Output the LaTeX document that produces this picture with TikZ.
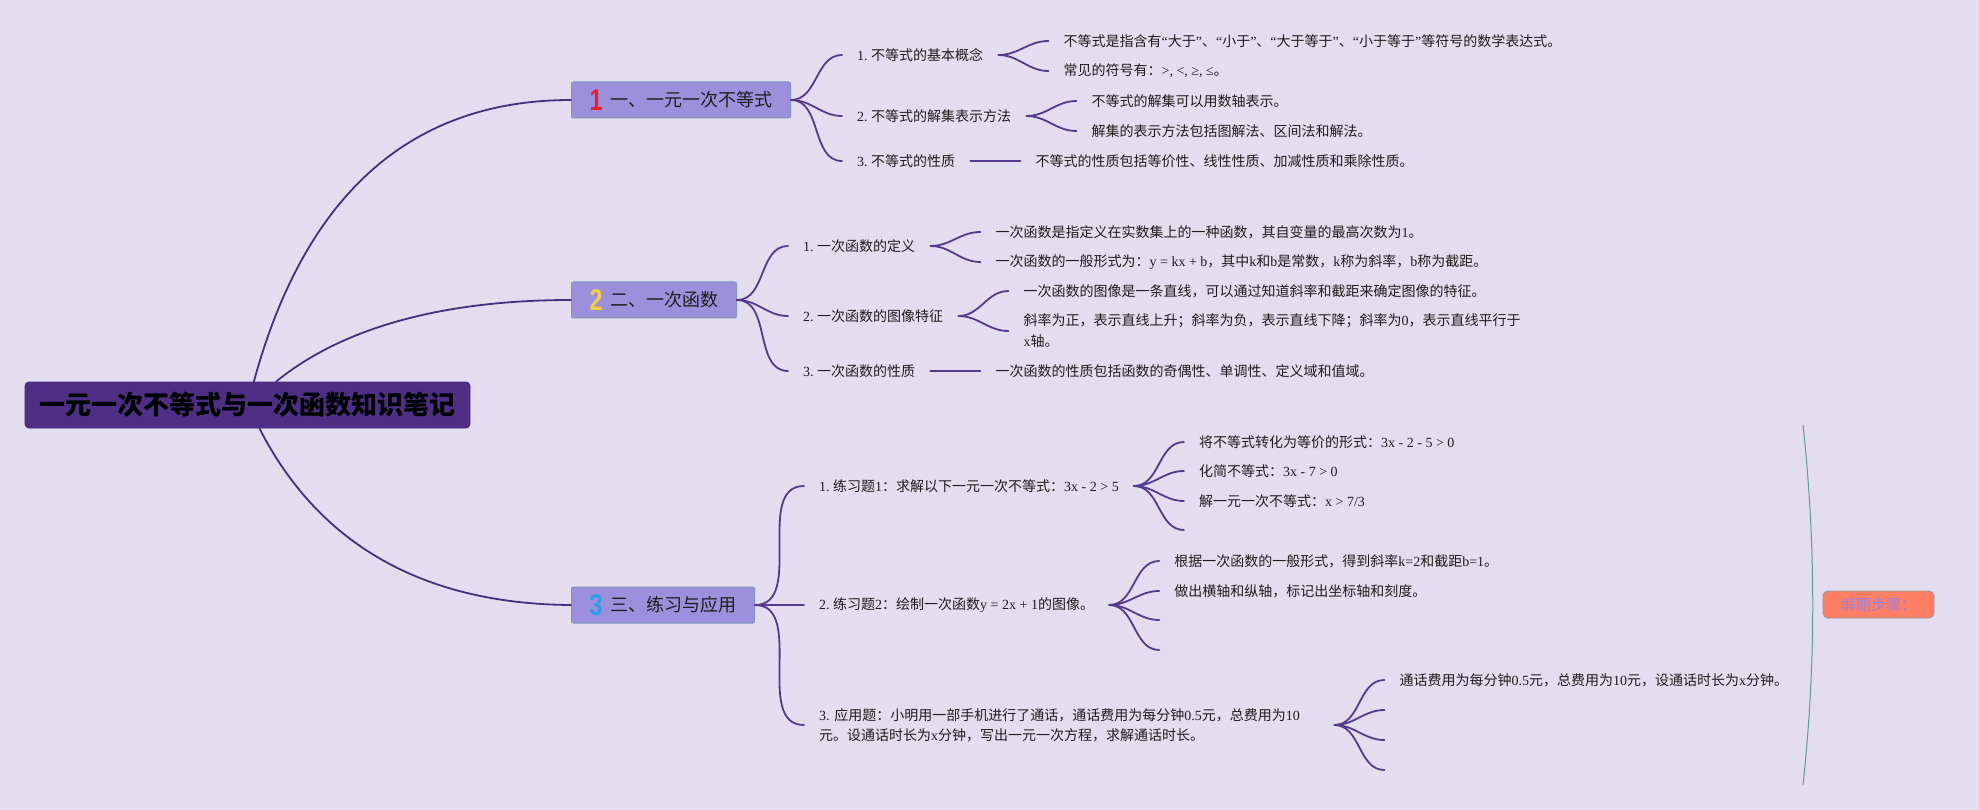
\documentclass[tikz,border=0pt]{standalone}
\usepackage{fontspec}
\usepackage{graphicx}
\setmainfont{Liberation Serif}
\newfontfamily\cjkfont{Noto Sans CJK SC}
\newfontfamily\iconfont{Liberation Sans}
\usetikzlibrary{calc}
\frenchspacing
% automatic switch to the CJK font for ideographs and full-width punctuation
\XeTeXinterchartokenstate=1
\chardef\CJKcls=7
\newcount\cjkcc
\def\setcjkrange#1#2{\cjkcc=#1\relax\loop\XeTeXcharclass\cjkcc=\CJKcls\advance\cjkcc by 1\relax\ifnum\cjkcc<#2\relax\repeat}
\setcjkrange{"4E00}{"A000}
\setcjkrange{"3000}{"3040}
\setcjkrange{"FF00}{"FFF0}
\XeTeXcharclass"201C=0
\XeTeXcharclass"201D=0
\XeTeXinterchartoks 0 \CJKcls = {\cjkfont}
\XeTeXinterchartoks 4095 \CJKcls = {\cjkfont}
\XeTeXinterchartoks \CJKcls 0 = {\rmfamily}
\XeTeXinterchartoks \CJKcls 4095 = {\rmfamily}

\definecolor{bgcol}{HTML}{E4DCEF}
\definecolor{rootfill}{HTML}{4E2F85}
\definecolor{branchfill}{HTML}{9C8FDB}
\definecolor{branchborder}{HTML}{8093B8}
\definecolor{linecol}{HTML}{43307F}
\definecolor{forkcol}{HTML}{55398C}
\definecolor{textcol}{HTML}{1E1E1E}
\definecolor{bracketcol}{HTML}{5E9C9A}
\definecolor{sumfill}{HTML}{FF7E66}
\definecolor{sumborder}{HTML}{8C9C98}
\definecolor{sumtext}{HTML}{9C82D8}
\definecolor{iconred}{HTML}{E3202D}
\definecolor{iconyellow}{HTML}{F2CF45}
\definecolor{iconblue}{HTML}{2E9FE3}

\newcommand\numicon[2]{\raisebox{-4pt}{\color{#1}\iconfont\bfseries\fontsize{30}{30}\selectfont\scalebox{0.78}[1]{#2}}}

\begin{document}
\begin{tikzpicture}[x=1pt,y=-1pt,
  rootbox/.style={draw=rootfill!85!black, line width=0.8pt, fill=rootfill, rounded corners=4pt,
    minimum width=445pt, minimum height=46pt, inner sep=0pt,
    font=\fontsize{26}{30}\selectfont\bfseries, text=black},
  branch/.style={draw=branchborder, line width=1pt, fill=branchfill, rounded corners=2pt,
    minimum height=36pt, inner xsep=18pt, inner ysep=0pt, anchor=west,
    font=\fontsize{18}{22}\selectfont, text=textcol},
  topic/.style={inner xsep=15pt, inner ysep=2pt, anchor=west,
    font=\fontsize{14}{20}\selectfont, text=textcol, align=left},
  mainline/.style={draw=linecol, line width=1.8pt, line cap=round},
  forkline/.style={draw=forkcol, line width=1.8pt, line cap=round},
  bracketline/.style={draw=bracketcol, line width=1pt},
  sumbox/.style={draw=sumborder, line width=0.8pt, fill=sumfill, rounded corners=5pt,
    minimum width=111pt, minimum height=27pt, inner sep=0pt,
    font=\fontsize{15}{18}\selectfont, text=sumtext},
]
\useasboundingbox[fill=bgcol] (0,0) rectangle (1979,810);

% root and main branches
\node[rootbox] (root) at (247.5,405) {一元一次不等式与一次函数知识笔记};
\node[branch] (b1) at (571,100) {\numicon{iconred}{1}\hspace{8pt}一、一元一次不等式};
\node[branch] (b2) at (571,300) {\numicon{iconyellow}{2}\hspace{8pt}二、一次函数};
\node[branch] (b3) at (571,605) {\numicon{iconblue}{3}\hspace{8pt}三、练习与应用};

\draw[mainline] (root) .. controls (305,194) and (411,100) .. (b1.west);
\draw[mainline] (root) .. controls (343,327) and (444,300) .. (b2.west);
\draw[mainline] (root) .. controls (319,545) and (424,604) .. (b3.west);

% branch 1
\node[topic] (c11) at ($(b1.east)+(51,-45)$) {1. 不等式的基本概念};
\node[topic] (c12) at ($(b1.east)+(51,16)$) {2. 不等式的解集表示方法};
\node[topic] (c13) at ($(b1.east)+(51,61)$) {3. 不等式的性质};
\foreach \c in {c11,c12,c13} \draw[forkline] (b1.east) to[out=0,in=180] (\c.west);

\node[topic] (l111) at ($(c11.east)+(50,-14)$) {不等式是指含有“大于”、“小于”、“大于等于”、“小于等于”等符号的数学表达式。};
\node[topic] (l112) at ($(c11.east)+(50,16)$) {常见的符号有：>, <, ≥, ≤。};
\node[topic] (l121) at ($(c12.east)+(50,-15)$) {不等式的解集可以用数轴表示。};
\node[topic] (l122) at ($(c12.east)+(50,15)$) {解集的表示方法包括图解法、区间法和解法。};
\node[topic] (l131) at ($(c13.east)+(50,0)$) {不等式的性质包括等价性、线性性质、加减性质和乘除性质。};
\draw[forkline] (c11.east) to[out=0,in=180] (l111.west);
\draw[forkline] (c11.east) to[out=0,in=180] (l112.west);
\draw[forkline] (c12.east) to[out=0,in=180] (l121.west);
\draw[forkline] (c12.east) to[out=0,in=180] (l122.west);
\draw[forkline] (c13.east) -- (l131.west);

% branch 2
\node[topic] (c21) at ($(b2.east)+(51,-54)$) {1. 一次函数的定义};
\node[topic] (c22) at ($(b2.east)+(51,16)$) {2. 一次函数的图像特征};
\node[topic] (c23) at ($(b2.east)+(51,71)$) {3. 一次函数的性质};
\foreach \c in {c21,c22,c23} \draw[forkline] (b2.east) to[out=0,in=180] (\c.west);

\node[topic] (l211) at ($(c21.east)+(50,-14)$) {一次函数是指定义在实数集上的一种函数，其自变量的最高次数为1。};
\node[topic] (l212) at ($(c21.east)+(50,16)$) {一次函数的一般形式为：y = kx + b，其中k和b是常数，k称为斜率，b称为截距。};
\node[topic] (l221) at ($(c22.east)+(50,-25)$) {一次函数的图像是一条直线，可以通过知道斜率和截距来确定图像的特征。};
\node[topic, text width=505pt, font=\fontsize{14}{21}\selectfont] (l222) at ($(c22.east)+(50,15)$) {斜率为正，表示直线上升；斜率为负，表示直线下降；斜率为0，表示直线平行于\\x轴。};
\node[topic] (l231) at ($(c23.east)+(50,0)$) {一次函数的性质包括函数的奇偶性、单调性、定义域和值域。};
\draw[forkline] (c21.east) to[out=0,in=180] (l211.west);
\draw[forkline] (c21.east) to[out=0,in=180] (l212.west);
\draw[forkline] (c22.east) to[out=0,in=180] (l221.west);
\draw[forkline] (c22.east) to[out=0,in=180] (l222.west);
\draw[forkline] (c23.east) -- (l231.west);

% branch 3
\node[topic] (c31) at ($(b3.east)+(49,-119)$) {1. 练习题1：求解以下一元一次不等式：3x - 2 > 5};
\node[topic] (c32) at ($(b3.east)+(49,0)$) {2. 练习题2：绘制一次函数y = 2x + 1的图像。};
\node[topic, text width=500pt] (c33) at ($(b3.east)+(49,120)$) {3. 应用题：小明用一部手机进行了通话，通话费用为每分钟0.5元，总费用为10\\元。设通话时长为x分钟，写出一元一次方程，求解通话时长。};
\foreach \c in {c31,c32,c33} \draw[forkline] (b3.east) to[out=0,in=180] (\c.west);

\node[topic] (l311) at ($(c31.east)+(50,-44)$) {将不等式转化为等价的形式：3x - 2 - 5 > 0};
\node[topic] (l312) at ($(c31.east)+(50,-15)$) {化简不等式：3x - 7 > 0};
\node[topic] (l313) at ($(c31.east)+(50,15)$) {解一元一次不等式：x > 7/3};
\node[topic] (l314) at ($(c31.east)+(50,44)$) {};
\foreach \l in {l311,l312,l313,l314} \draw[forkline] (c31.east) to[out=0,in=180] (\l.west);

\node[topic] (l321) at ($(c32.east)+(50,-44)$) {根据一次函数的一般形式，得到斜率k=2和截距b=1。};
\node[topic] (l322) at ($(c32.east)+(50,-14)$) {做出横轴和纵轴，标记出坐标轴和刻度。};
\node[topic] (l323) at ($(c32.east)+(50,15)$) {};
\node[topic] (l324) at ($(c32.east)+(50,45)$) {};
\foreach \l in {l321,l322,l323,l324} \draw[forkline] (c32.east) to[out=0,in=180] (\l.west);

\node[topic] (l331) at ($(c33.east)+(50,-45)$) {通话费用为每分钟0.5元，总费用为10元，设通话时长为x分钟。};
\node[topic] (l332) at ($(c33.east)+(50,-15)$) {};
\node[topic] (l333) at ($(c33.east)+(50,15)$) {};
\node[topic] (l334) at ($(c33.east)+(50,45)$) {};
\foreach \l in {l331,l332,l333,l334} \draw[forkline] (c33.east) to[out=0,in=180] (\l.west);

% summary bracket
\coordinate (brtop) at (1803,425);
\coordinate (brbot) at (1803,785);
\draw[bracketline] (brtop) .. controls (1816,545) and (1816,665) .. (brbot);
\node[sumbox] (sum) at (1878.5,604.5) {解题步骤：};
\end{tikzpicture}
\end{document}
